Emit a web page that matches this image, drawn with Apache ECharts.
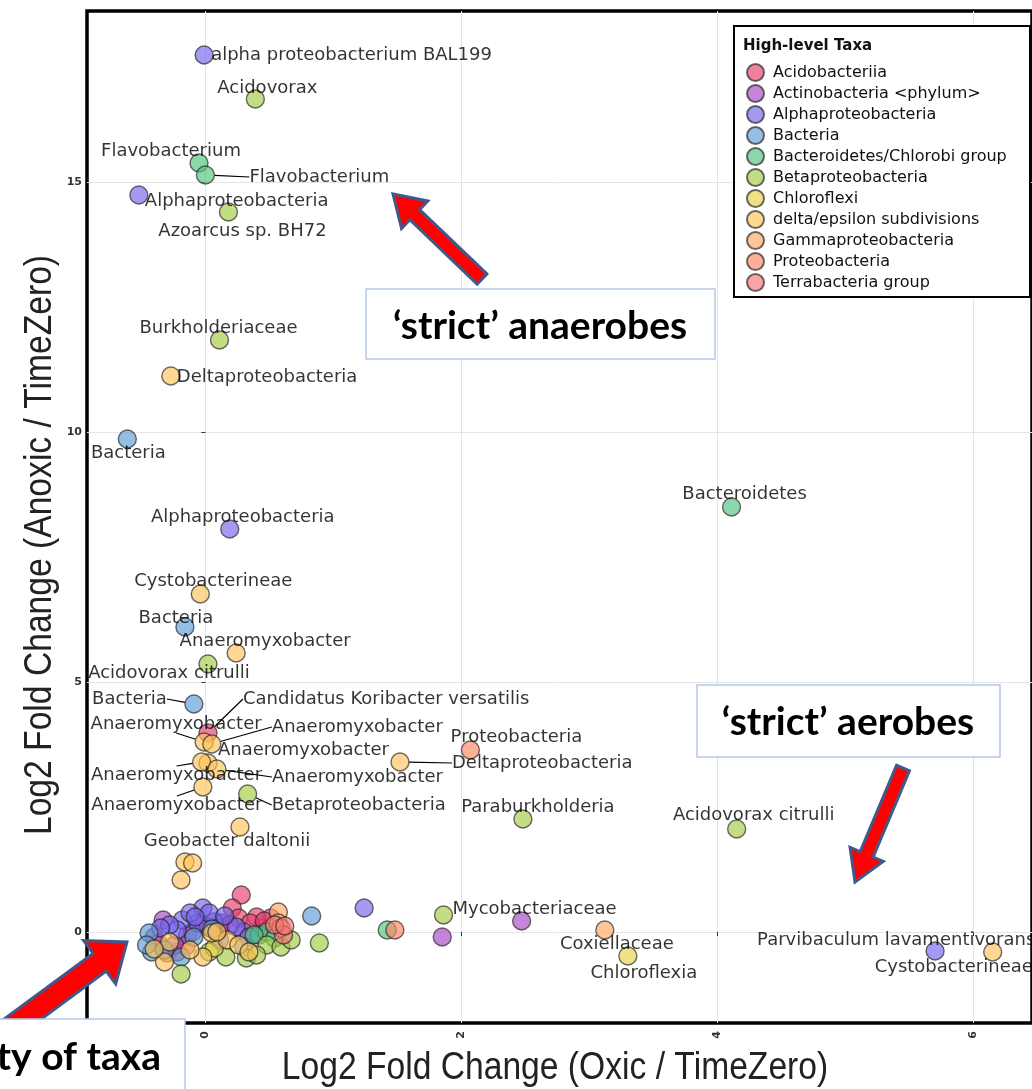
<!DOCTYPE html>
<html><head><meta charset="utf-8">
<script src="https://cdn.jsdelivr.net/npm/echarts@6/dist/echarts.min.js"></script>
<style>html,body{margin:0;padding:0;background:#fff}#c{width:1032px;height:1089px}</style>
</head><body><div id="c"></div>
<script>
const taxa = ['Acidobacteriia','Actinobacteria <phylum>','Alphaproteobacteria','Bacteria','Bacteroidetes/Chlorobi group','Betaproteobacteria','Chloroflexi','delta/epsilon subdivisions','Gammaproteobacteria','Proteobacteria','Terrabacteria group'];
const taxaColors = ['#E63F6C','#A645C4','#7463EC','#5B9BD5','#4FC47E','#A4CB45','#E9D147','#FEC359','#FDA763','#FD8562','#FB7476'];
const xTicks = [0, 2, 4, 6];
const yTicks = [0, 5, 10, 15];

// [x, y, optional label]
const acidobacteriia = [[0.02,3.98,'Candidatus Koribacter versatilis'],[0.28,0.74],[0.21,0.48],[0.26,0.28],[0.51,0.28],[0.12,0.18],[-0.37,-0.22],[-0.30,-0.42],[-0.22,-0.40],[0.12,0.08],[-0.01,0.14],[0.44,0.08],[0.40,0.30],[0.35,0.18],[-0.15,-0.28],[0.46,0.22]];
const actinobacteria = [[2.47,0.22],[1.85,-0.10],[-0.33,0.24],[-0.40,-0.10],[-0.14,-0.06],[0.30,0.00],[-0.24,-0.26],[0.19,0.14],[0.02,0.10],[-0.10,0.00]];
const alphaproteobacteria = [[-0.01,17.54,'alpha proteobacterium BAL199'],[-0.52,14.74,'Alphaproteobacteria'],[0.19,8.06,'Alphaproteobacteria'],[5.70,-0.38,'Parvibaculum lavamentivorans'],[1.24,0.48],[-0.18,0.24],[-0.02,0.48],[-0.06,0.18],[-0.22,0.04],[0.07,0.20],[0.03,0.38],[0.24,0.10],[0.34,-0.10],[-0.12,0.38],[-0.28,0.14],[0.11,-0.16],[-0.08,0.30],[0.15,0.32],[-0.35,0.08]];
const bacteria = [[-0.61,9.86,'Bacteria'],[-0.16,6.10,'Bacteria'],[-0.09,4.56,'Bacteria'],[0.83,0.32],[-0.44,-0.02],[-0.42,-0.40],[-0.09,-0.10],[-0.19,-0.50],[0.42,-0.06],[-0.46,-0.26],[-0.32,-0.36],[0.05,0.06],[0.30,-0.30]];
const bacteroidetes = [[-0.05,15.38,'Flavobacterium'],[0.00,15.14,'Flavobacterium'],[4.11,8.50,'Bacteroidetes'],[1.42,0.04],[0.48,0.00],[0.54,-0.12],[0.38,-0.06]];
const betaproteobacteria = [[0.39,16.66,'Acidovorax'],[0.18,14.40,'Azoarcus sp. BH72'],[0.11,11.84,'Burkholderiaceae'],[0.02,5.36,'Acidovorax citrulli'],[0.33,2.76,'Betaproteobacteria'],[2.48,2.26,'Paraburkholderia'],[4.15,2.06,'Acidovorax citrulli'],[1.86,0.34,'Mycobacteriaceae'],[0.89,-0.22],[-0.19,-0.84],[0.48,-0.26],[0.59,-0.30],[0.16,-0.50],[0.32,-0.52],[0.67,-0.16],[0.03,-0.40],[0.40,-0.46]];
const chloroflexi = [[3.30,-0.48,'Chloroflexia'],[0.07,-0.32]];
const deltaEpsilon = [[-0.27,11.12,'Deltaproteobacteria'],[-0.04,6.76,'Cystobacterineae'],[0.24,5.58,'Anaeromyxobacter'],[-0.01,3.80,'Anaeromyxobacter'],[0.05,3.76,'Anaeromyxobacter'],[0.02,3.38,'Anaeromyxobacter'],[-0.03,3.40,'Anaeromyxobacter'],[0.09,3.26,'Anaeromyxobacter'],[-0.02,2.90,'Anaeromyxobacter'],[1.52,3.40,'Deltaproteobacteria'],[0.27,2.10,'Geobacter daltonii'],[6.15,-0.40,'Cystobacterineae'],[-0.16,1.40],[-0.10,1.38],[-0.19,1.04],[-0.28,-0.20],[-0.32,-0.60],[-0.02,-0.50],[0.05,-0.02],[0.17,-0.16],[0.09,0.00],[0.26,-0.26],[-0.40,-0.34],[0.34,-0.40],[-0.12,-0.36]];
const gammaproteobacteria = [[3.12,0.04,'Coxiellaceae'],[0.57,0.40],[0.57,0.18]];
const proteobacteria = [[2.07,3.64,'Proteobacteria'],[1.48,0.04],[0.59,0.08]];
const terrabacteria = [[0.61,-0.06],[0.54,0.14],[0.62,0.12]];

const taxaData = [acidobacteriia, actinobacteria, alphaproteobacteria, bacteria, bacteroidetes, betaproteobacteria, chloroflexi, deltaEpsilon, gammaproteobacteria, proteobacteria, terrabacteria];

// label placement (pixel offset from point centre, text align, leader line) for labelled points, in order
const labelSpots = [
  [[35,-34,'left',1]],
  [],
  [[7,0,'left',0],[6,6,'left',0],[13,-12,'center',0],[-178,-11,'left',0]],
  [[1,14,'center',0],[-9,-9,'center',0],[-27,-5,'right',1]],
  [[-28,-12,'center',0],[44,2,'left',1],[13,-13,'center',0]],
  [[12,-11,'center',0],[14,19,'center',0],[-1,-12,'center',0],[-39,9,'center',0],[24,11,'left',1],[15,-12,'center',0],[17,-14,'center',0],[9,-6,'left',0]],
  [[16,17,'center',0]],
  [[6,1,'left',0],[13,-13,'center',0],[29,-12,'center',0],[-28,-18,'center',1],[60,-17,'left',1],[10,-13,'left',0],[-25,13,'center',1],[55,8,'left',1],[-26,18,'center',1],[52,1,'left',1],[-13,14,'center',0],[-118,15,'left',0]],
  [[12,14,'center',0]],
  [[46,-13,'center',0]],
  []
];

function withAlpha(hex, a) {
  const n = parseInt(hex.slice(1), 16);
  return 'rgba(' + (n >> 16) + ',' + ((n >> 8) & 255) + ',' + (n & 255) + ',' + a + ')';
}

const spotLookup = [];
const series = taxa.map((name, ti) => {
  let li = 0;
  spotLookup[ti] = [];
  const data = taxaData[ti].map((p, di) => {
    const item = { value: [p[0], p[1]] };
    if (p[2]) {
      const s = labelSpots[ti][li++];
      spotLookup[ti][di] = s;
      item.name = p[2];
      item.label = { show: true, formatter: p[2] };
      item.labelLine = { show: !!s[3] };
    }
    return item;
  });
  return {
    type: 'scatter', name: name, data: data, symbol: 'circle', symbolSize: 18,
    itemStyle: { color: withAlpha(taxaColors[ti], 0.82), borderColor: 'rgba(40,40,40,0.85)', borderWidth: 1.4 },
    label: { show: false, fontFamily: 'DejaVu Sans', fontSize: 18, color: '#000' },
    labelLine: { show: false, lineStyle: { color: '#000', width: 1.2 } },
    labelLayout: function (params) {
      const s = spotLookup[params.seriesIndex] && spotLookup[params.seriesIndex][params.dataIndex];
      if (!s) return {};
      const cx = params.rect.x + params.rect.width / 2;
      const cy = params.rect.y + params.rect.height / 2;
      return { x: cx + s[0], y: cy + s[1], align: s[2], verticalAlign: 'middle' };
    },
    emphasis: { disabled: true },
    animation: false
  };
});

function arrowPoints(tail, tip, shaftW, headW, headL) {
  const dx = tip[0] - tail[0], dy = tip[1] - tail[1];
  const len = Math.sqrt(dx * dx + dy * dy);
  const ux = dx / len, uy = dy / len, px = -uy, py = ux;
  const bx = tip[0] - ux * headL, by = tip[1] - uy * headL;
  return [
    [tail[0] + px * shaftW / 2, tail[1] + py * shaftW / 2],
    [bx + px * shaftW / 2, by + py * shaftW / 2],
    [bx + px * headW / 2, by + py * headW / 2],
    tip,
    [bx - px * headW / 2, by - py * headW / 2],
    [bx - px * shaftW / 2, by - py * shaftW / 2],
    [tail[0] - px * shaftW / 2, tail[1] - py * shaftW / 2]
  ];
}
const arrowStyle = { fill: '#FF0000', stroke: '#41598A', lineWidth: 3, lineJoin: 'miter' };
const boxStyle = { fill: '#fff', stroke: '#B4C7E7', lineWidth: 1.5 };
const calloutFont = 'bold 39px Lato';

const chart = echarts.init(document.getElementById('c'));
chart.setOption({
  animation: false,
  backgroundColor: '#fff',
  grid: { left: 87, top: 11, right: -5, bottom: 66, show: true, borderColor: '#000', borderWidth: 3.5 },
  xAxis: {
    type: 'value', min: -0.925, max: 6.457,
    axisLine: { show: false },
    axisTick: { show: true, customValues: xTicks, length: 4, lineStyle: { color: '#333' } },
    axisLabel: { customValues: xTicks, rotate: 90, fontSize: 11, fontWeight: 'bold', color: '#333', margin: 8, fontFamily: 'DejaVu Sans' },
    splitLine: { show: true, lineStyle: { color: '#e4e4e4', width: 1 } }
  },
  yAxis: {
    type: 'value', min: -1.82, max: 18.42,
    axisLine: { show: false },
    axisTick: { show: true, customValues: yTicks, length: 4, lineStyle: { color: '#333' } },
    axisLabel: { customValues: yTicks, fontSize: 11, fontWeight: 'bold', color: '#333', margin: 5, fontFamily: 'DejaVu Sans' },
    splitLine: { show: true, lineStyle: { color: '#e4e4e4', width: 1 } }
  },
  legend: {
    data: taxa, orient: 'vertical', left: 746, top: 63,
    icon: 'circle', itemWidth: 17, itemHeight: 17, itemGap: 2, padding: 0,
    textStyle: { fontFamily: 'DejaVu Sans', fontSize: 16, color: '#111', padding: [0, 0, 0, 4], lineHeight: 19 },
    selectedMode: false, z: 20
  },
  graphic: [
    { type: 'rect', z: 15, shape: { x: 734, y: 26, width: 296, height: 271 }, style: { fill: '#fff', stroke: '#000', lineWidth: 2 } },
    { type: 'text', z: 16, x: 743, y: 46, style: { text: 'High-level Taxa', font: 'bold 15px "DejaVu Sans"', fill: '#111', verticalAlign: 'middle' } },
    { type: 'text', z: 16, x: 555, y: 1069, scaleX: 0.885, style: { text: 'Log2 Fold Change (Oxic / TimeZero)', font: '38px "Liberation Sans"', fill: '#222', align: 'center', verticalAlign: 'middle' } },
    { type: 'text', z: 16, x: 41, y: 545, rotation: Math.PI / 2, scaleX: 0.885, style: { text: 'Log2 Fold Change (Anoxic / TimeZero)', font: '38px "Liberation Sans"', fill: '#222', align: 'center', verticalAlign: 'middle' } },
    { type: 'polygon', z: 30, shape: { points: arrowPoints([482, 279], [393, 194], 14, 38, 30) }, style: arrowStyle },
    { type: 'polygon', z: 30, shape: { points: arrowPoints([903, 768], [855, 882], 14, 36, 30) }, style: arrowStyle },
    { type: 'polygon', z: 30, shape: { points: arrowPoints([8, 1030], [127, 942], 22, 54, 34) }, style: arrowStyle },
    { type: 'rect', z: 31, shape: { x: 366, y: 289, width: 349, height: 70 }, style: boxStyle },
    { type: 'text', z: 32, x: 540, y: 326, style: { text: '\u2018strict\u2019 anaerobes', font: calloutFont, fill: '#000', align: 'center', verticalAlign: 'middle' } },
    { type: 'rect', z: 31, shape: { x: 697, y: 685, width: 303, height: 72 }, style: boxStyle },
    { type: 'text', z: 32, x: 848, y: 722, style: { text: '\u2018strict\u2019 aerobes', font: calloutFont, fill: '#000', align: 'center', verticalAlign: 'middle' } },
    { type: 'rect', z: 31, shape: { x: -5, y: 1019, width: 190, height: 80 }, style: boxStyle },
    { type: 'text', z: 32, x: 161, y: 1057, style: { text: 'ty of taxa', font: calloutFont, fill: '#000', align: 'right', verticalAlign: 'middle' } }
  ],
  series: series
});
</script></body></html>
